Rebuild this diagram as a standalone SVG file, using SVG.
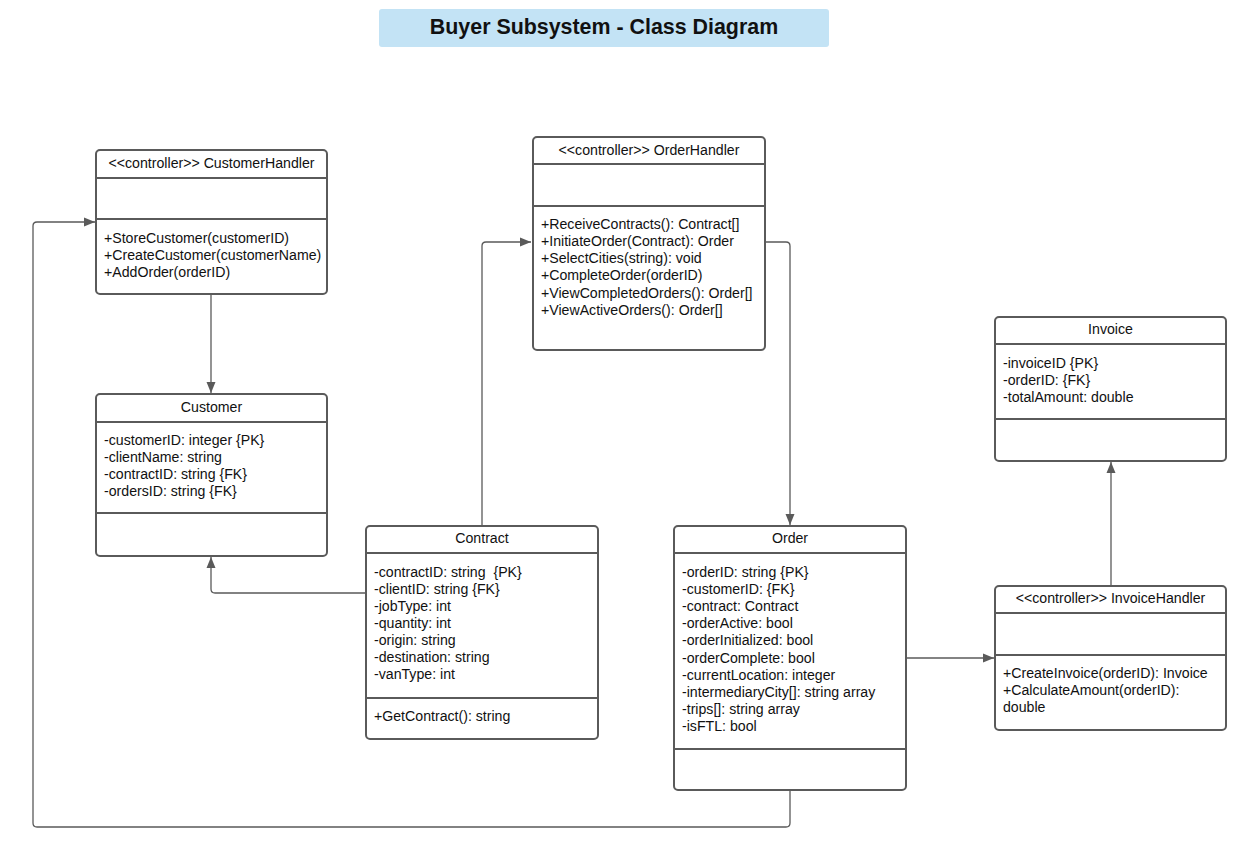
<svg xmlns="http://www.w3.org/2000/svg" width="1254" height="843" viewBox="0 0 1254 843">
<style>
.box{fill:#fff;stroke:#5a5a5a;stroke-width:2}
.sep{stroke:#5a5a5a;stroke-width:2}
.t{font-family:"Liberation Sans",Arial,sans-serif;font-size:14.15px;fill:#111}
.c{text-anchor:middle}
.con{fill:none;stroke:#5a5a5a;stroke-width:1.3}
</style>
<defs>
<marker id="ah" markerWidth="12" markerHeight="10" refX="11" refY="5" orient="auto" markerUnits="userSpaceOnUse">
<path d="M0,0.5 L11,5 L0,9.5 Z" fill="#5a5a5a"/>
</marker>
</defs>
<rect width="1254" height="843" fill="#fff"/>
<g id="title">
<rect x="379" y="9" width="450" height="38" rx="3" fill="#c3e3f5"/>
<text x="604" y="34" text-anchor="middle" font-family="Liberation Sans,Arial,sans-serif" font-size="21.4" font-weight="bold" fill="#111">Buyer Subsystem - Class Diagram</text>
</g>
<g id="connectors">
<path class="con" d="M211,294 V393" marker-end="url(#ah)"/>
<path class="con" d="M482,526 V246 Q482,242 486,242 H531" marker-end="url(#ah)"/>
<path class="con" d="M765,242 H786 Q790,242 790,246 V525" marker-end="url(#ah)"/>
<path class="con" d="M366,593 H215 Q211,593 211,589 V557" marker-end="url(#ah)"/>
<path class="con" d="M790,790 V823 Q790,827 786,827 H37 Q33,827 33,823 V226 Q33,222 37,222 H95" marker-end="url(#ah)"/>
<path class="con" d="M906,658 H994" marker-end="url(#ah)"/>
<path class="con" d="M1111,586 V462" marker-end="url(#ah)"/>
</g>
<g id="CustomerHandler">
<rect class="box" x="96" y="150" width="231" height="144" rx="4"/>
<line class="sep" x1="96" y1="178" x2="327" y2="178"/>
<line class="sep" x1="96" y1="219" x2="327" y2="219"/>
<text class="t c" x="211.5" y="168">&lt;&lt;controller&gt;&gt; CustomerHandler</text>
<text class="t" x="104" y="243">+StoreCustomer(customerID)</text>
<text class="t" x="104" y="260">+CreateCustomer(customerName)</text>
<text class="t" x="104" y="277">+AddOrder(orderID)</text>
</g>
<g id="OrderHandler">
<rect class="box" x="533" y="137" width="232" height="213" rx="4"/>
<line class="sep" x1="533" y1="164" x2="765" y2="164"/>
<line class="sep" x1="533" y1="206" x2="765" y2="206"/>
<text class="t c" x="649" y="155">&lt;&lt;controller&gt;&gt; OrderHandler</text>
<text class="t" x="541" y="229">+ReceiveContracts(): Contract[]</text>
<text class="t" x="541" y="246">+InitiateOrder(Contract): Order</text>
<text class="t" x="541" y="263">+SelectCities(string): void</text>
<text class="t" x="541" y="280">+CompleteOrder(orderID)</text>
<text class="t" x="541" y="298">+ViewCompletedOrders(): Order[]</text>
<text class="t" x="541" y="315">+ViewActiveOrders(): Order[]</text>
</g>
<g id="Customer">
<rect class="box" x="96" y="394" width="231" height="162" rx="4"/>
<line class="sep" x1="96" y1="422" x2="327" y2="422"/>
<line class="sep" x1="96" y1="513" x2="327" y2="513"/>
<text class="t c" x="211.5" y="412">Customer</text>
<text class="t" x="104" y="445">-customerID: integer {PK}</text>
<text class="t" x="104" y="462">-clientName: string</text>
<text class="t" x="104" y="479">-contractID: string {FK}</text>
<text class="t" x="104" y="496">-ordersID: string {FK}</text>
</g>
<g id="Contract">
<rect class="box" x="366" y="526" width="232" height="213" rx="4"/>
<line class="sep" x1="366" y1="553" x2="598" y2="553"/>
<line class="sep" x1="366" y1="698" x2="598" y2="698"/>
<text class="t c" x="482" y="543">Contract</text>
<text class="t" x="374" y="577">-contractID: string &#160;{PK}</text>
<text class="t" x="374" y="594">-clientID: string {FK}</text>
<text class="t" x="374" y="611">-jobType: int</text>
<text class="t" x="374" y="628">-quantity: int</text>
<text class="t" x="374" y="645">-origin: string</text>
<text class="t" x="374" y="662">-destination: string</text>
<text class="t" x="374" y="679">-vanType: int</text>
<text class="t" x="374" y="721">+GetContract(): string</text>
</g>
<g id="Order">
<rect class="box" x="674" y="526" width="232" height="264" rx="4"/>
<line class="sep" x1="674" y1="553" x2="906" y2="553"/>
<line class="sep" x1="674" y1="749" x2="906" y2="749"/>
<text class="t c" x="790" y="543">Order</text>
<text class="t" x="682" y="577">-orderID: string {PK}</text>
<text class="t" x="682" y="594">-customerID: {FK}</text>
<text class="t" x="682" y="611">-contract: Contract</text>
<text class="t" x="682" y="628">-orderActive: bool</text>
<text class="t" x="682" y="645">-orderInitialized: bool</text>
<text class="t" x="682" y="663">-orderComplete: bool</text>
<text class="t" x="682" y="680">-currentLocation: integer</text>
<text class="t" x="682" y="697">-intermediaryCity[]: string array</text>
<text class="t" x="682" y="714">-trips[]: string array</text>
<text class="t" x="682" y="731">-isFTL: bool</text>
</g>
<g id="Invoice">
<rect class="box" x="995" y="317" width="231" height="144" rx="4"/>
<line class="sep" x1="995" y1="344" x2="1226" y2="344"/>
<line class="sep" x1="995" y1="419" x2="1226" y2="419"/>
<text class="t c" x="1110.5" y="334">Invoice</text>
<text class="t" x="1003" y="368">-invoiceID {PK}</text>
<text class="t" x="1003" y="385">-orderID: {FK}</text>
<text class="t" x="1003" y="402">-totalAmount: double</text>
</g>
<g id="InvoiceHandler">
<rect class="box" x="995" y="586" width="231" height="144" rx="4"/>
<line class="sep" x1="995" y1="613" x2="1226" y2="613"/>
<line class="sep" x1="995" y1="655" x2="1226" y2="655"/>
<text class="t c" x="1110.5" y="603">&lt;&lt;controller&gt;&gt; InvoiceHandler</text>
<text class="t" x="1003" y="678">+CreateInvoice(orderID): Invoice</text>
<text class="t" x="1003" y="695">+CalculateAmount(orderID):</text>
<text class="t" x="1003" y="712">double</text>
</g>
</svg>
